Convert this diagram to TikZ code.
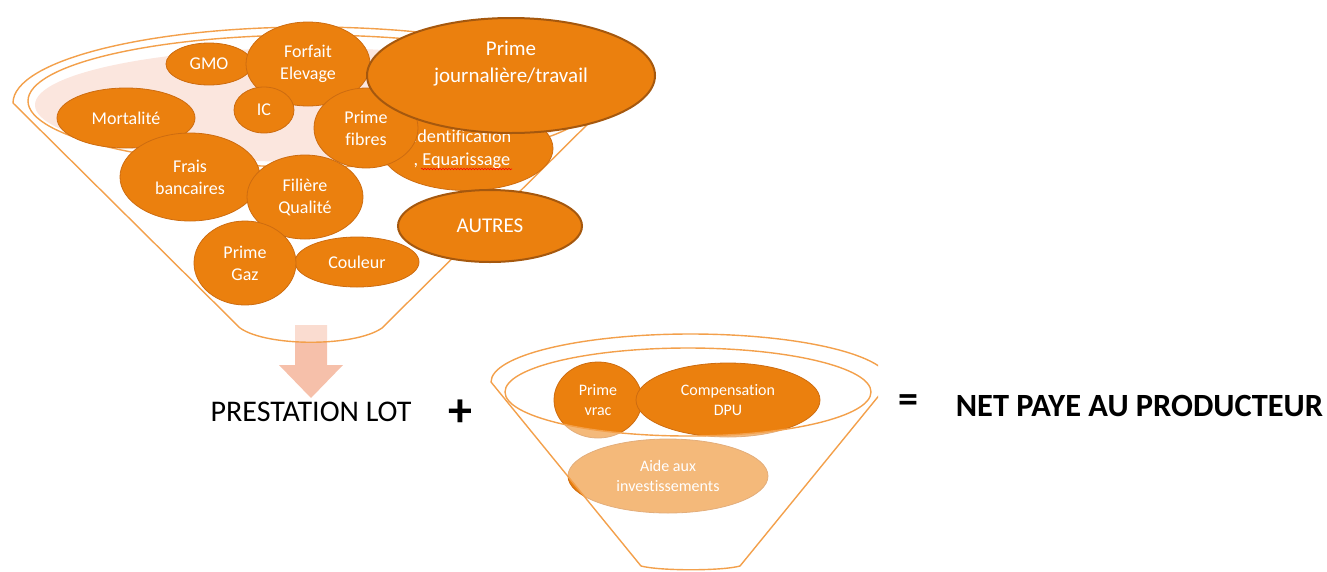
\documentclass[tikz,border=0pt]{standalone}
\usepackage{fontspec}
\setmainfont{Carlito}[Ligatures=CommonOff]
\usetikzlibrary{shapes.geometric,decorations.pathmorphing}
\definecolor{org}{RGB}{235,128,14}
\definecolor{orgb}{RGB}{205,108,16}
\definecolor{orgd}{RGB}{165,88,14}
\definecolor{fun}{RGB}{243,160,75}
\definecolor{pinkf}{RGB}{251,230,222}
\definecolor{arr}{RGB}{246,192,170}
\begin{document}
\begin{tikzpicture}[x=1pt,y=-1pt,
  bub/.style={ellipse, fill=org, draw=orgb, line width=0.8pt, text=white,
    inner sep=0pt, align=center, font=\fontsize{18}{22}\selectfont},
  bubs/.style={bub, font=\fontsize{16}{20}\selectfont},
  bubd/.style={bub, draw=orgd, line width=2pt, font=\fontsize{21}{27}\selectfont},
  lbl/.style={text=white, inner sep=0pt, align=center, font=\fontsize{21}{27}\selectfont},
  lbls/.style={text=white, inner sep=0pt, align=center, font=\fontsize{18.3}{23}\selectfont},
  funline/.style={draw=fun, line width=1.4pt},
  veil/.style={fill=white, fill opacity=0.45},
  big/.style={inner sep=0pt, font=\fontsize{30}{36}\selectfont},
  bigb/.style={inner sep=0pt, font=\bfseries\fontsize{32.4}{38}\selectfont}]
\useasboundingbox (0,0) rectangle (1327,571);

% ---------- funnel 1 ----------
\fill[arr] (295,325) -- (327,325) -- (327,365) -- (343,365) -- (311,398) -- (279,365) -- (295,365) -- cycle;
\path[veil] (13,103) arc[start angle=180,end angle=360,x radius=298,y radius=76]
  -- (382,328) .. controls (355,347) and (267,347) .. (240,328) -- cycle;
\draw[funline] (13,103) arc[start angle=180,end angle=360,x radius=298,y radius=76]
  -- (382,328) .. controls (355,347) and (267,347) .. (240,328) -- cycle;
\draw[funline] (311,101) ellipse[x radius=283,y radius=66];
\fill[pinkf] (310,105) ellipse[x radius=275,y radius=57];

\node[bub, minimum width=86pt, minimum height=42pt] (gmo) at (209,64) {GMO};
\node[bub, minimum width=124pt, minimum height=84pt] (forfait) at (308,64) {Forfait\\Elevage};
\node[bub, minimum width=138pt, minimum height=60pt] (mort) at (126,118) {Mortalité};
\node[bub, minimum width=60pt, minimum height=46pt] (ic) at (264,110) {IC};
\node[bub, minimum width=172pt, minimum height=84pt] (ident) at (467,148.5) {};
\node[lbls] (identt) at (462,149) {Identification\\, Equarissage};
\draw[red, line width=0.6pt, decorate, decoration={snake, amplitude=0.7pt, segment length=3pt}] (421,169) -- (512,169);
\node[bub, minimum width=104pt, minimum height=80pt] (fibres) at (366,128) {Prime\\fibres};
\node[bubd, minimum width=288pt, minimum height=115pt] (pj) at (511,75.5) {};
\node[lbl] (pjt) at ([yshift=12pt]pj.center) {Prime\\journalière/travail};
\node[bub, minimum width=140pt, minimum height=88pt] (frais) at (190,177) {Frais\\bancaires};
\node[bub, minimum width=116pt, minimum height=84pt] (filiere) at (305,197) {Filière\\Qualité};
\node[bub, minimum width=124pt, minimum height=50pt] (couleur) at (357,262) {Couleur};
\node[bub, minimum width=102pt, minimum height=84pt] (gaz) at (245,263) {Prime\\Gaz};
\node[bubd, minimum width=184pt, minimum height=72pt] (autres) at (490,226) {AUTRES};

% ---------- texts ----------
\node[big] (lot) at (311,412) {PRESTATION LOT};
\node[inner sep=0pt, font=\bfseries\fontsize{48}{50}\selectfont] (plus) at (460,413) {+};
\node[inner sep=0pt, font=\bfseries\fontsize{40}{44}\selectfont] (eq) at (908,404) {=};
\node[bigb] (net) at (1139.5,406) {NET PAYE AU PRODUCTEUR};

% ---------- funnel 2 ----------
\node[bubs, minimum width=88pt, minimum height=76pt] (vrac) at (598,400) {Prime\\vrac};
\node[bubs, minimum width=184pt, minimum height=74pt] (dpu) at (728,400) {Compensation\\DPU};
\node[bubs, minimum width=200pt, minimum height=74pt] (aide) at (668,476) {Aide aux\\investissements};
\begin{scope}
\clip (480,300) rectangle (878,571);
\path[veil] (500,392) -- (641,566) .. controls (660,571) and (722,571) .. (740,566)
  -- (870,392) arc[start angle=0,end angle=180,x radius=183,y radius=44] -- cycle;
\draw[funline] (491,382) arc[start angle=180,end angle=360,x radius=199.5,y radius=48]
  -- (740,566) .. controls (722,571) and (660,571) .. (641,566) -- cycle;
\draw[funline] (688,392) ellipse[x radius=183,y radius=44];
\end{scope}
\end{tikzpicture}
\end{document}
